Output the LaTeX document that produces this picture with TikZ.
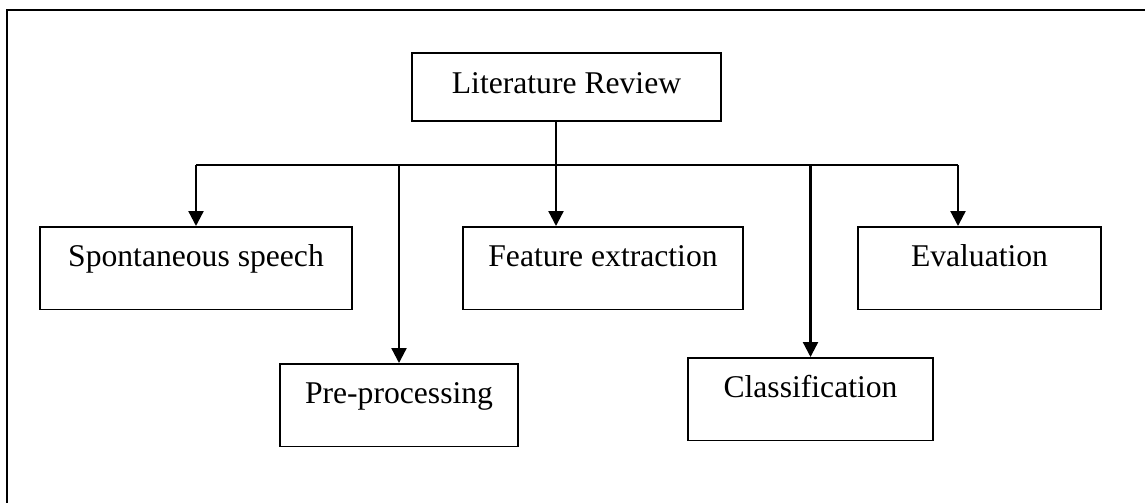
\documentclass[tikz,border=0pt]{standalone}
\usepackage{fontspec}
\setmainfont{Liberation Serif}
\usetikzlibrary{arrows.meta,positioning}
\tikzset{
  stagebox/.style={draw,line width=1pt,inner sep=0pt,align=center,
    font=\fontsize{18}{22}\selectfont,text height=0.8cm,text depth=0.85cm},
  topbox/.style={stagebox,text depth=0.56cm},
  feed/.style={line width=1.3pt,-{Triangle[length=0.3cm,width=0.3cm]}},
}

\begin{document}
\begin{tikzpicture}
\useasboundingbox (0,0) rectangle (22.9,-10.06);
% frame, only its top and left edge are seen
\draw[line width=1.4pt] (22.9,-0.2) -- (0.14,-0.2) -- (0.14,-10.06);
\node[topbox,minimum width=6.18cm] (lit) at (11.33,-1.74) {Literature Review};
\node[stagebox,anchor=north,minimum width=6.24cm] (spon) at (3.92,-4.52) {Spontaneous speech};
\node[stagebox,anchor=north,minimum width=5.6cm] (feat) at (12.06,-4.52) {Feature extraction};
\node[stagebox,anchor=north,minimum width=4.86cm] (eval) at (19.59,-4.52) {Evaluation};
\node[stagebox,anchor=north,minimum width=4.76cm] (pre) at (7.98,-7.26) {Pre-processing};
\node[stagebox,anchor=north,minimum width=4.9cm] (class) at (16.21,-7.14) {Classification};
\coordinate (hub) at (11.12,-3.3);
\coordinate (evaldrop) at (19.16,-3.3);
\draw[line width=0.9pt] (spon.north |- hub) -- (evaldrop);
\draw[feed] (hub |- lit.south) -- (hub |- feat.north);
\draw[feed] (spon.north |- hub) -- (spon.north);
\draw[feed] (pre.north |- hub) -- (pre.north);
\draw[feed] (class.north |- hub) -- (class.north);
\draw[feed] (evaldrop) -- (evaldrop |- eval.north);
\end{tikzpicture}
\end{document}
